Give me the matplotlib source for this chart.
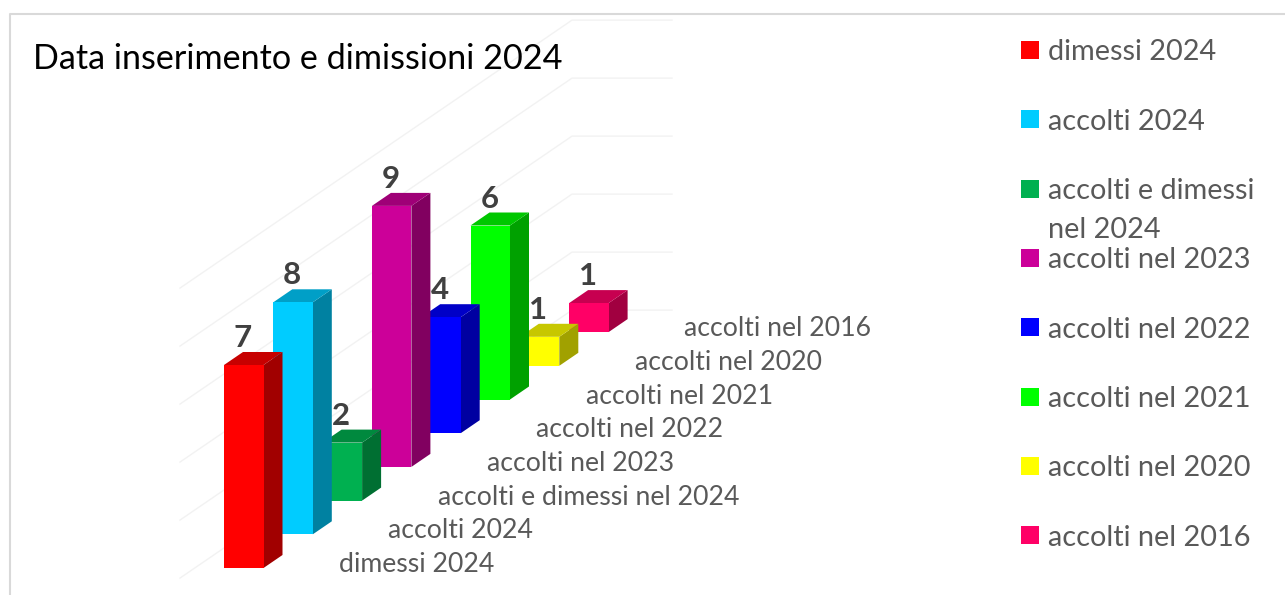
import numpy as np
import matplotlib
matplotlib.use("Agg")
import matplotlib.pyplot as plt
from matplotlib.patches import Polygon, Rectangle

plt.rcParams['font.family'] = ['Lato', 'DejaVu Sans']

# data
categories = ['dimessi 2024', 'accolti 2024', 'accolti e dimessi nel 2024', 'accolti nel 2023',
              'accolti nel 2022', 'accolti nel 2021', 'accolti nel 2020', 'accolti nel 2016']
legend_labels = ['dimessi 2024', 'accolti 2024', 'accolti e dimessi\nnel 2024', 'accolti nel 2023',
                 'accolti nel 2022', 'accolti nel 2021', 'accolti nel 2020', 'accolti nel 2016']
values = [7, 8, 2, 9, 4, 6, 1, 1]
colors = ['#FF0000', '#00CCFF', '#00B050', '#CC0099', '#0000FF', '#00FF00', '#FFFF00', '#FF0066']
grid_values = [0, 2, 4, 6, 8, 10]
title = 'Data inserimento e dimissioni 2024'

# oblique projection, all in pixels
X0, Y0 = 224, 568       # front bottom left of first bar
STEP_X, STEP_Y = 49.3, 33.7
UNIT = 29               # pixels per value unit
BAR_W = 39.5
DEPTH_X, DEPTH_Y = 19, 13
GRID_SHIFT = 20         # grid plane sits above the bars base
GRID_LEFT, GRID_BACK, WALL_END = 180, 572, 672


def project(cat, val):
    return X0 + STEP_X * cat, Y0 - STEP_Y * cat - UNIT * val


def shade(color, factor):
    rgb = np.array(matplotlib.colors.to_rgb(color))
    return tuple(rgb * factor)


fig = plt.figure(figsize=(12.85, 5.95), dpi=100)
ax = fig.add_axes([0, 0, 1, 1])
ax.set_xlim(0, 1285)
ax.set_ylim(595, 0)
ax.axis('off')

# chart frame
ax.plot([9.5, 9.5, 1285], [595, 14, 14], color='#D9D9D9', linewidth=1.5, zorder=1)

# gridlines
for v in grid_values:
    cat_left = (GRID_LEFT - X0) / STEP_X
    cat_back = (GRID_BACK - X0) / STEP_X
    xl, yl = project(cat_left, v)
    xb, yb = project(cat_back, v)
    ax.plot([xl, xb, WALL_END], [yl - GRID_SHIFT, yb - GRID_SHIFT, yb - GRID_SHIFT],
            color='#F2F2F2', linewidth=1, zorder=1)

# bars, back to front
for i in range(len(values) - 1, -1, -1):
    x, y_bot = project(i, 0)
    _, y_top = project(i, values[i])
    z = 2 + (len(values) - i)
    c = colors[i]
    front = [(x, y_bot), (x + BAR_W, y_bot), (x + BAR_W, y_top), (x, y_top)]
    side = [(x + BAR_W, y_bot), (x + BAR_W + DEPTH_X, y_bot - DEPTH_Y),
            (x + BAR_W + DEPTH_X, y_top - DEPTH_Y), (x + BAR_W, y_top)]
    top = [(x, y_top), (x + BAR_W, y_top), (x + BAR_W + DEPTH_X, y_top - DEPTH_Y), (x + DEPTH_X, y_top - DEPTH_Y)]
    ax.add_patch(Polygon(side, closed=True, facecolor=shade(c, 0.63), edgecolor='none', zorder=z))
    ax.add_patch(Polygon(top, closed=True, facecolor=shade(c, 0.78), edgecolor='none', zorder=z))
    ax.add_patch(Polygon(front, closed=True, facecolor=c, edgecolor='none', zorder=z))
    ax.text(x + BAR_W / 2 - 1, y_top - 27, str(values[i]), fontsize=22.5, fontweight='bold', color='#404040',
            ha='center', va='center', zorder=30)

# category labels along the depth axis
for i, name in enumerate(categories):
    x, y = project(i, 0)
    ax.text(x + 115, y - 3.5, name, fontsize=19.2, color='#595959', ha='left', va='center', zorder=30)

# title
ax.text(33, 59, title, fontsize=24.6, color='black', ha='left', va='center', zorder=30)

# legend
legend_y = 50
legend_step = 69.3
for i, name in enumerate(legend_labels):
    y = legend_y + legend_step * i
    ax.add_patch(Rectangle((1021, y - 9), 18, 18, facecolor=colors[i], edgecolor='none', zorder=30))
    lines = name.split('\n')
    for k, line in enumerate(lines):
        ax.text(1048, y + 2.5 + 39 * k, line, fontsize=20.8, color='#595959', ha='left', va='center', zorder=30)

plt.savefig('out.png', dpi=100)
plt.close()
